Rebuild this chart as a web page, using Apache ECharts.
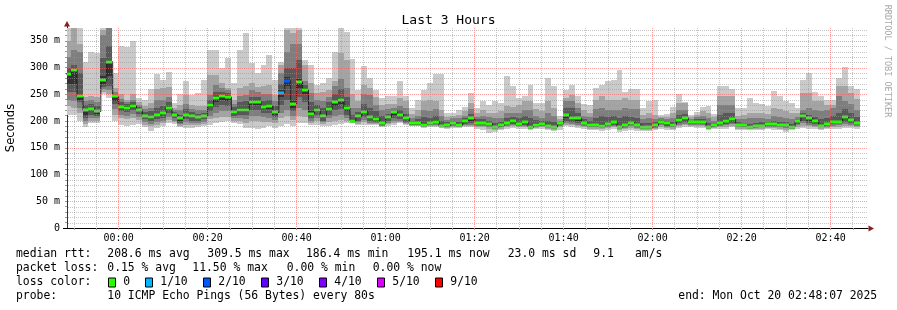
<!DOCTYPE html>
<html>
<head>
<meta charset="utf-8">
<script src="https://cdn.jsdelivr.net/npm/echarts@6/dist/echarts.min.js"></script>
<style>
html,body{margin:0;padding:0;background:#ffffff;}
#chart{width:897px;height:310px;}
</style>
</head>
<body>
<div id="chart"></div>
<script>
// ---- time frame (seconds relative to 00:00, Oct 20) ----
const viewStart = -696;      // left edge of the plot
const viewEnd = 10104;       // right edge of the plot
const firstStepStart = -720; // 23:48:00, first 80 s step
const stepSeconds = 80;

// ---- tick values ----
const xLabelTimes = [0, 1200, 2400, 3600, 4800, 6000, 7200, 8400, 9600];
const yLabelValues = [0, 50, 100, 150, 200, 250, 300, 350];

// ---- sorted ping RTTs per 80 s step (ms) ----
const ping1 = [
212,212,200,188,196,197,250,243,200,193,
190,193,195,188,182,187,190,196,195,188,
187,187,188,191,193,196,198,200,196,195,
187,187,185,187,190,187,190,195,190,196,
196,193,193,191,191,193,194,197,196,192,
193,193,192,188,191,193,196,193,191,190,
187,189,189,187,186,187,187,188,189,186,
184,178,180,183,186,187,186,186,183,185,
186,184,181,184,190,188,187,185,184,183,
182,184,185,180,181,183,181,182,181,183,
186,184,184,187,189,188,187,187,183,185,
185,186,188,184,184,183,183,184,185,184,
183,179,183,186,187,186,185,184,185,185,
186,187,187,185];
const ping2 = [
228,225,215,195,201,201,255,250,212,205,
203,206,202,193,190,193,196,202,198,191,
193,192,192,195,203,205,207,208,200,200,
197,200,200,198,198,196,205,210,202,210,
207,196,200,195,198,200,202,200,197,195,
198,195,194,190,194,196,198,195,191,191,
188,191,191,188,187,189,188,190,191,189,
188,186,184,186,189,190,188,189,185,187,
188,186,184,188,192,192,190,188,186,186,
185,187,188,183,185,187,185,184,184,185,
189,187,186,190,192,190,190,190,185,187,
188,189,191,186,186,185,185,186,187,187,
186,184,185,189,191,190,188,186,187,188,
189,191,190,188];
const ping3 = [
240,237,225,200,206,205,260,258,222,212,
210,213,208,198,195,198,201,208,201,194,
198,197,197,199,210,215,218,218,205,206,
204,210,210,207,206,202,215,220,210,225,
220,200,206,198,205,210,212,205,198,198,
202,197,196,191,197,200,200,197,192,192,
189,192,192,188,188,190,189,192,193,191,
190,189,186,188,191,192,190,191,186,188,
190,187,186,190,196,195,193,190,188,188,
187,189,191,185,187,190,187,186,186,187,
192,189,188,193,195,192,192,192,186,189,
190,192,194,188,188,186,187,188,189,189,
188,187,186,192,196,193,191,188,189,191,
192,195,193,190];
const ping4 = [
255,255,235,205,212,210,264,265,232,218,
216,220,214,203,200,203,206,215,205,197,
203,201,201,203,218,226,230,228,210,212,
211,220,220,215,215,207,230,240,218,245,
235,205,212,201,212,220,222,212,199,201,
207,200,198,192,200,205,204,199,193,193,
190,193,194,189,189,192,190,194,196,193,
192,191,187,189,193,195,191,193,187,189,
191,188,187,192,200,198,196,192,189,189,
188,191,193,187,189,192,189,187,187,188,
195,191,189,196,198,194,194,194,187,190,
192,195,197,190,189,187,188,189,191,191,
189,189,187,195,201,197,194,189,191,194,
194,199,196,192];
const ping5 = [
270,270,240,212,218,214,270,285,238,222,
221,225,218,207,204,208,211,221,209,201,
207,205,205,207,226,236,240,238,214,217,
217,230,230,222,222,212,245,265,225,262,
250,210,217,205,218,228,232,218,199.5,205,
213,204,201,194,204,212,208,202,194,194,
191,195,196,190,190,194,191,197,200,195,
194,193,188,190,195,197,193,195,188,191,
193,189,188,194,206,202,200,194,191,190,
189,193,196,188,191,195,191,188,188,190,
197,193,191,199,202,196,196,196,188,191,
194,198,200,191,190,188,189,190,193,193,
191,191,188,198,206,201,197,190,193,196,
196,203,199,194];
const ping6 = [
292,300,250,223,225,220,285,315,248,229,
228,231,223,212,210,214,217,228,214,207,
214,211,210,212,233,247,250,248,220,224,
225,239,239,230,231,219,258,282,238,278,
262,218,224,212,226,238,243,228,204,211,
220,210,207,199,210,219,214,207,198,198,
196,199,202,193,194,198,195,202,208,199,
198,197,191,194,199,202,197,200,192,196,
197,192,191,197,214,209,208,198,195,194,
194,197,201,191,195,199,195,191,191,194,
200,197,195,205,208,199,200,200,191,195,
198,203,205,194,193,191,192,193,197,197,
194,195,191,202,212,207,202,193,197,200,
200,210,204,198];
const ping7 = [
300,305,290,230,232,228,318,340,250,235,
232,235,226,216,218,225,228,235,217,212,
222,216,214,215,240,255,255,252,226,235,
238,245,245,238,240,228,270,300,300,315,
268,235,230,225,235,250,260,245,212,216,
232,225,218,210,214,221,220,214,201,204,
207,205,210,200,198,201,199,205,214,203,
203,201,197,198,205,207,205,210,205,202,
200,200,198,198,225,225,215,203,200,205,
210,208,210,205,210,208,206,196,196,198,
202,200,199,212,214,201,203,204,196,197,
212,215,215,198,197,195,196,198,199,200,
198,198,195,204,215,212,208,203,205,210,
215,222,215,208];
const ping8 = [
320,333,330,237,240,235,360,375,255,242,
236,240,230,222,225,240,240,245,220,220,
232,222,220,220,249,268,262,258,232,246,
248,258,255,250,250,238,290,330,345,345,
275,252,240,238,245,265,278,262,225,225,
250,248,230,220,222,225,228,225,205,210,
220,218,222,210,202,205,205,210,222,208,
210,207,205,206,215,215,215,220,220,210,
206,215,210,200,238,238,225,210,207,222,
225,221,221,221,225,222,222,203,205,203,
205,204,205,220,221,204,207,210,205,201,
230,230,230,203,204,205,205,205,204,210,
208,205,203,208,221,224,220,218,221,224,
246,238,232,221];
const ping9 = [
350,375,345,245,247,245,370,380,262,250,
240,250,235,228,233,260,262,263,225,230,
249,230,228,228,287,287,271,262,240,262,
265,271,263,265,268,249,305,370,365,370,
305,271,252,255,258,274,327,315,250,238,
268,262,245,230,232,232,243,238,213,220,
238,240,237,221,208,210,212,218,234,215,
220,215,215,218,228,227,230,238,237,222,
218,237,225,204,243,248,234,220,215,240,
246,240,240,240,243,240,240,212,215,212,
208,208,215,233,233,208,212,218,215,207,
246,246,246,210,212,215,215,215,213,225,
222,218,215,215,252,252,238,238,230,230,
265,265,252,242];
const ping10 = [
380,380,380,311,330,327,380,380,290,340,
339,350,243,240,260,288,277,291,233,251,
274,249,253,277,333,333,299,318,271,333,
364,308,290,305,324,277,311,380,380,380,
315,305,268,271,280,330,374,367,316,258,
303,280,258,243,246,246,274,246,224,240,
258,272,288,288,215,215,221,227,252,224,
237,230,237,234,285,265,243,246,268,234,
234,280,265,209,258,268,246,232,230,262,
268,274,277,296,255,260,260,224,238,240,
212,213,227,251,235,212,217,227,229,214,
266,266,259,224,224,243,234,232,229,257,
246,237,234,224,277,290,255,246,240,240,
280,302,265,260];

// ---- median RTT per step (ms) ----
const median = [
288,296,246,220,223,218,276,311,246,226,
225,229,221,210,207.5,212,215,225,212,205,
211,209,208.5,210,230.5,244,247,245,217.5,221,
221,236,236,227,228,216,253,275,232,273,
258.6,214,221,209,223,235,239,224,201,209,
217.5,207,204,196,207.5,217,212,205,196,196,
193,197,199,191,192,196,192.5,200,205.6,197,
196,195,189,192,197,200,195,197.5,189,193,
194.5,190,189,196,211,206,205,196,193,192,
191,195,199,189,193,197,192.5,189,189,192,
199,195.7,193,202,206,197.6,198,198,189.5,193,
195.7,201,203,193,192,189,190,191,195,195,
192.5,193,189.5,200,210,205,200,191,195,198,
198,207.5,202,196];

// ---- lost pings (of 10) per step ----
const lostPings = [
0,0,0,0,0,0,0,0,0,0,
0,0,0,0,0,0,0,0,0,0,
0,0,0,0,0,0,0,0,0,0,
0,0,0,0,0,0,1,2,0,0,
0,0,0,0,0,0,0,0,0,0,
0,0,0,0,0,0,0,0,0,0,
0,0,0,0,0,0,0,0,0,0,
0,0,0,0,0,0,0,0,0,0,
0,0,0,0,0,0,0,0,0,0,
0,0,0,0,0,0,0,0,0,0,
0,0,0,0,0,0,0,0,0,0,
0,0,0,0,0,0,0,0,0,0,
0,0,0,0,0,0,0,0,0,0,
0,0,0,0];

// ---- legend texts ----
const lossLegendLabels = ['0', '1/10', '2/10', '3/10', '4/10', '5/10', '9/10'];
const lossLegendKeys = [0, 1, 2, 3, 4, 5, 9];
const medianStats = ['median rtt:', '208.6 ms avg', '309.5 ms max', '186.4 ms min', '195.1 ms now', '23.0 ms sd', '9.1', 'am/s'];
const lossStats = ['packet loss:', '0.15 % avg', '11.50 % max', '0.00 % min', '0.00 % now'];
const probeText = ['probe:', '10 ICMP Echo Pings (56 Bytes) every 80s'];
const endText = 'end: Mon Oct 20 02:48:07 2025';

// ---- styles ----
const MONO = 'DejaVu Sans Mono';
const smokeColors = ['#cacaca', '#a4a4a4', '#7e7e7e', '#585858', '#323232'];
const lossColors = {0: '#26ff00', 1: '#00b8ff', 2: '#0059ff', 3: '#5e00ff', 4: '#7e00ff', 5: '#dd00ff', 9: '#ff0000'};
const minorGridColor = 'rgba(150,150,150,0.55)';
const majorGridColor = 'rgba(255,90,90,0.6)';

function fmtTime(sec) {
  let m = Math.round(sec / 60);
  m = ((m % 1440) + 1440) % 1440;
  const h = Math.floor(m / 60), mm = m % 60;
  return String(h).padStart(2, '0') + ':' + String(mm).padStart(2, '0');
}

// grid line / tick positions
const xTickTimes = [];
for (let t = -600; t <= 10000; t += 300) xTickTimes.push(t);
const xMinorTimes = xTickTimes.filter(t => xLabelTimes.indexOf(t) < 0);
const yTickValues = [];
for (let v = 0; v <= 370; v += 10) yTickValues.push(v);
const yMinorValues = yTickValues.filter(v => v > 0 && yLabelValues.indexOf(v) < 0);
const yMajorValues = yLabelValues.filter(v => v > 0);

const pings = [ping1, ping2, ping3, ping4, ping5, ping6, ping7, ping8, ping9, ping10];
const stepRows = median.map((m, i) => {
  const s = firstStepStart + i * stepSeconds;
  return [s, s + stepSeconds].concat(pings.map(p => p[i])).concat([m, lostPings[i]]);
});
const medianLine = median.map((m, i) => [firstStepStart + i * stepSeconds, m]);
medianLine.push([firstStepStart + median.length * stepSeconds, median[median.length - 1]]);

const chart = echarts.init(document.getElementById('chart'), null, {renderer: 'canvas', width: 897, height: 310});

const graphics = [];
// y axis arrow & x axis arrow
graphics.push({type: 'polygon', shape: {points: [[64, 26.5], [70, 26.5], [67, 21]]}, style: {fill: '#8b1c1c'}, z: 100});
graphics.push({type: 'polygon', shape: {points: [[868.5, 225.5], [868.5, 231.5], [874, 228.5]]}, style: {fill: '#8b1c1c'}, z: 100});
graphics.push({type: 'line', shape: {x1: 67.5, y1: 26, x2: 67.5, y2: 28}, style: {stroke: '#333', lineWidth: 1}, z: 100});
graphics.push({type: 'line', shape: {x1: 63, y1: 228.5, x2: 67, y2: 228.5}, style: {stroke: '#000', lineWidth: 1}, z: 100});
// watermark
graphics.push({type: 'text', x: 887, y: 61, rotation: -Math.PI / 2,
  style: {text: 'RRDTOOL / TOBI OETIKER', fontFamily: MONO, fontSize: 8.5, fill: '#a8a8a8', align: 'center', verticalAlign: 'middle'}});
// legend lines
const legendX = [16, 107.3, 207.3, 306, 407.3, 507.7, 593.3, 635];
medianStats.forEach((t, i) => graphics.push({type: 'text', x: legendX[i], y: 254.5,
  style: {text: t, fontFamily: MONO, fontSize: 11.4, fill: '#000', verticalAlign: 'middle'}}));
const lossX = [16, 107.3, 192.3, 286.7, 372.7];
lossStats.forEach((t, i) => graphics.push({type: 'text', x: lossX[i], y: 268.5,
  style: {text: t, fontFamily: MONO, fontSize: 11.4, fill: '#000', verticalAlign: 'middle'}}));
graphics.push({type: 'text', x: 16, y: 282.5, style: {text: 'loss color:', fontFamily: MONO, fontSize: 11.4, fill: '#000', verticalAlign: 'middle'}});
const boxX = [108.5, 145.5, 203.5, 261.5, 319.5, 377.5, 435.5];
lossLegendKeys.forEach((k, i) => {
  graphics.push({type: 'rect', shape: {x: boxX[i], y: 278, width: 7, height: 9}, style: {fill: lossColors[k], stroke: '#000', lineWidth: 1}});
  graphics.push({type: 'text', x: boxX[i] + 14.8, y: 282.5, style: {text: lossLegendLabels[i], fontFamily: MONO, fontSize: 11.4, fill: '#000', verticalAlign: 'middle'}});
});
const probeX = [16, 107.3];
probeText.forEach((t, i) => graphics.push({type: 'text', x: probeX[i], y: 296.5,
  style: {text: t, fontFamily: MONO, fontSize: 11.4, fill: '#000', verticalAlign: 'middle'}}));
graphics.push({type: 'text', x: 678.3, y: 296.5, style: {text: endText, fontFamily: MONO, fontSize: 11.4, fill: '#000', verticalAlign: 'middle'}});

// all grid lines drawn as filled 1px dots, positions from the axis scales
const gridSeries = {
  name: 'grid', type: 'custom', z: 5, silent: true,
  data: [[viewStart, 0]], encode: {x: 0, y: 1},
  renderItem: function (params, api) {
    const cs = params.coordSys;
    const top = Math.round(cs.y), bottom = Math.round(cs.y + cs.height);
    const left = Math.round(cs.x), right = Math.round(cs.x + cs.width);
    function vDots(times) {
      let d = '';
      times.forEach(t => {
        const c = Math.floor(api.coord([t, 0])[0]);
        if (c <= left || c >= right) return;
        for (let r = top; r < bottom; r += 2) d += 'M' + c + ' ' + r + 'h1v1h-1z';
      });
      return d;
    }
    function hDots(values) {
      let d = '';
      values.forEach(v => {
        const r = Math.round(api.coord([viewStart, v])[1]);
        for (let c = left + 1; c < right; c += 2) d += 'M' + c + ' ' + r + 'h1v1h-1z';
      });
      return d;
    }
    return {type: 'group', children: [
      {type: 'path', shape: {pathData: hDots(yMinorValues)}, style: {fill: minorGridColor, stroke: null}},
      {type: 'path', shape: {pathData: vDots(xMinorTimes)}, style: {fill: minorGridColor, stroke: null}},
      {type: 'path', shape: {pathData: hDots(yMajorValues)}, style: {fill: majorGridColor, stroke: null}},
      {type: 'path', shape: {pathData: vDots(xLabelTimes)}, style: {fill: majorGridColor, stroke: null}}
    ]};
  }
};

const option = {
  animation: false,
  backgroundColor: '#ffffff',
  title: {text: 'Last 3 Hours', left: 'center', top: 9,
    textStyle: {fontFamily: MONO, fontSize: 13, fontWeight: 'normal', color: '#000'}},
  grid: {left: 67, top: 28, width: 801, height: 200, containLabel: false, outerBoundsMode: 'none'},
  xAxis: {
    type: 'value', min: viewStart, max: viewEnd,
    axisLine: {show: true, onZero: false, lineStyle: {color: '#000', width: 1}},
    axisTick: {show: true, customValues: xTickTimes, length: 2, lineStyle: {color: '#999'}},
    axisLabel: {customValues: xLabelTimes, formatter: v => fmtTime(v), fontFamily: MONO, fontSize: 10, color: '#000', margin: 5},
    splitLine: {show: false}
  },
  yAxis: {
    type: 'value', min: 0, max: 374,
    name: 'Seconds', nameLocation: 'middle', nameRotate: 90, nameGap: 50,
    nameTextStyle: {fontFamily: 'DejaVu Sans', fontSize: 11.5, color: '#000'},
    axisLine: {show: true, onZero: false, lineStyle: {color: '#333', width: 1}},
    axisTick: {show: true, customValues: yTickValues, length: 2, lineStyle: {color: '#999'}},
    axisLabel: {customValues: yLabelValues, formatter: v => (v === 0 ? '0' : v + ' m'), fontFamily: MONO, fontSize: 10, color: '#000', margin: 7},
    splitLine: {show: false}
  },
  graphic: graphics,
  series: [
    {
      name: 'smoke', type: 'custom', clip: true, z: 2,
      data: stepRows,
      encode: {x: [0, 1], y: [2, 3, 4, 5, 6, 7, 8, 9, 10, 11]},
      renderItem: function (params, api) {
        const x0 = Math.floor(api.coord([api.value(0), 0])[0]);
        const x1 = Math.floor(api.coord([api.value(1), 0])[0]);
        const children = [];
        for (let k = 0; k < 5; k++) {
          const lo = api.coord([0, api.value(2 + k)])[1];
          const hi = api.coord([0, api.value(11 - k)])[1];
          children.push({type: 'rect', shape: {x: x0, y: Math.round(hi), width: x1 - x0, height: Math.round(lo) - Math.round(hi)},
            style: {fill: smokeColors[k]}});
        }
        return {type: 'group', children: children};
      }
    },
    {
      name: 'median', type: 'line', step: 'end', data: medianLine, z: 3,
      symbol: 'none', lineStyle: {color: '#202020', width: 1}, clip: true
    },
    {
      name: 'loss', type: 'custom', clip: true, z: 4,
      data: stepRows,
      encode: {x: [0, 1], y: 12},
      renderItem: function (params, api) {
        const x0 = Math.floor(api.coord([api.value(0), 0])[0]);
        const x1 = Math.floor(api.coord([api.value(1), 0])[0]);
        const y = Math.round(api.coord([0, api.value(12)])[1]);
        return {type: 'rect', shape: {x: x0, y: y - 1.5, width: x1 - x0, height: 3},
          style: {fill: lossColors[api.value(13)] || '#26ff00'}};
      }
    },
    gridSeries
  ]
};
chart.setOption(option);
</script>
</body>
</html>
